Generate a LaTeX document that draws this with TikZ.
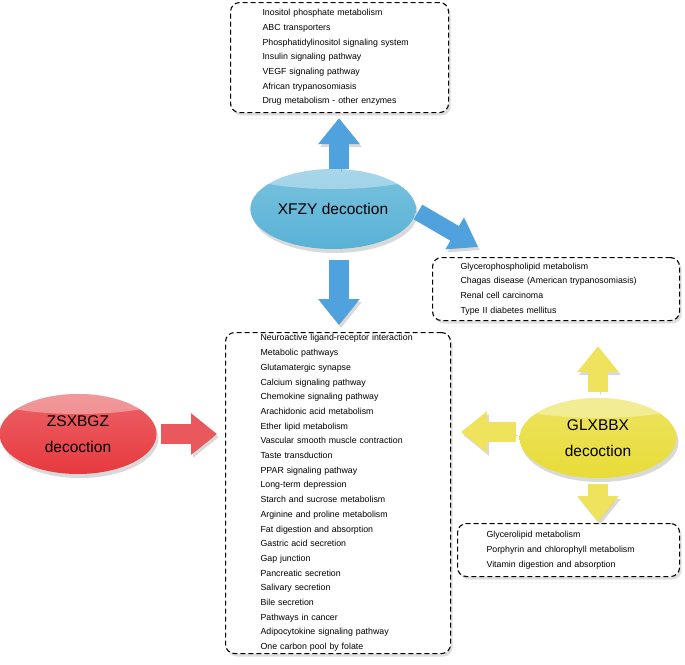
\documentclass[tikz,border=0pt]{standalone}
\usepackage{fontspec}
\setmainfont{Liberation Sans}
\usetikzlibrary{arrows.meta,shapes.geometric,shadows}
\definecolor{xfzyblue}{HTML}{58B2D6}
\definecolor{zsxred}{HTML}{E73A3F}
\definecolor{glxyellow}{HTML}{E8DC38}
\definecolor{arrblue}{HTML}{4FA2DE}
\definecolor{arrred}{HTML}{E9585D}
\definecolor{arryellow}{HTML}{EFE35E}
\begin{document}
\begin{tikzpicture}[x=1pt,y=-1pt]
	\tikzstyle{lst}=[draw,dash pattern=on 5pt off 3pt,line width=1.1pt,rounded corners=9pt,fill=white,drop shadow={shadow xshift=2pt,shadow yshift=-3pt,opacity=0.25},anchor=north west,align=left,inner ysep=2pt,font=\fontsize{8.8}{14.7}\selectfont]
	\tikzstyle{pill}=[ellipse,draw=none,minimum width=157pt,minimum height=80pt,align=center,font=\fontsize{15.5}{26.5}\selectfont,drop shadow={shadow xshift=2pt,shadow yshift=-4pt,opacity=0.3}]
	\tikzstyle{gloss}=[path picture={\fill[white,opacity=0.35] ([yshift=44pt]path picture bounding box.center) ellipse[x radius=105pt,y radius=24pt];}]
	\tikzstyle{fat}=[line width=20pt,-{Triangle[length=26pt,width=40pt]},preaction={draw=black,opacity=0.15,transform canvas={shift={(2pt,-3pt)}}}]
	\useasboundingbox (0,0) rectangle (685,664);

	\node[lst,text width=154pt,inner xsep=32pt,minimum height=110pt] (T) at (230,2) {Inositol phosphate metabolism\\ABC transporters\\Phosphatidylinositol signaling system\\Insulin signaling pathway\\VEGF signaling pathway\\African trypanosomiasis\\Drug metabolism - other enzymes};
	\node[lst,text width=191pt,inner xsep=28pt,minimum height=63pt] (R) at (432,257) {Glycerophospholipid metabolism\\Chagas disease (American trypanosomiasis)\\Renal cell carcinoma\\Type II diabetes mellitus};
	\node[lst,text width=155pt,inner xsep=35pt,minimum height=321pt] (M) at (225,332) {Neuroactive ligand-receptor interaction\\Metabolic pathways\\Glutamatergic synapse\\Calcium signaling pathway\\Chemokine signaling pathway\\Arachidonic acid metabolism\\Ether lipid metabolism\\Vascular smooth muscle contraction\\Taste transduction\\PPAR signaling pathway\\Long-term depression\\Starch and sucrose metabolism\\Arginine and proline metabolism\\Fat digestion and absorption\\Gastric acid secretion\\Gap junction\\Pancreatic secretion\\Salivary secretion\\Bile secretion\\Pathways in cancer\\Adipocytokine signaling pathway\\One carbon pool by folate};
	\node[lst,text width=164pt,inner xsep=29pt,minimum height=53pt] (B) at (457,523) {Glycerolipid metabolism\\Porphyrin and chlorophyll metabolism\\Vitamin digestion and absorption};

	\node[pill,gloss,top color=xfzyblue!80!white,bottom color=xfzyblue] (XFZY) at (333,209) {XFZY decoction};
	\node[pill,gloss,top color=zsxred!80!white,bottom color=zsxred] (ZSXBGZ) at (78,434) {ZSXBGZ\\decoction};
	\node[pill,gloss,top color=glxyellow!80!white,bottom color=glxyellow] (GLXBBX) at (598,438) {GLXBBX\\decoction};

	% XFZY
	\draw[fat,draw=arrblue,shorten >=5pt] ([xshift=6pt]XFZY.north) -- ([xshift=6pt]XFZY.north |- T.south);
	\draw[fat,draw=arrblue,shorten >=7pt] ([shift={(6,11)}]XFZY.south) -- ([xshift=6pt]XFZY.south |- M.north);
	\draw[fat,draw=arrblue,line width=17pt,-{Triangle[length=27pt,width=35pt]}] ([shift={(85,3)}]XFZY.center) -- ([shift={(46,-10)}]R.north west);
	% ZSXBGZ
	\draw[fat,draw=arrred,shorten >=8pt] ([xshift=4pt]ZSXBGZ.east) -- (ZSXBGZ.east -| M.west);
	% GLXBBX
	\draw[fat,draw=arryellow,shorten >=10pt] ([shift={(-3,-6)}]GLXBBX.west) -- ([yshift=6pt]GLXBBX.west -| M.east);
	\draw[fat,draw=arryellow,shorten >=25pt] ([yshift=6pt]GLXBBX.north) -- (GLXBBX.north |- R.south);
	\draw[fat,draw=arryellow,shorten >=1pt] ([yshift=-6pt]GLXBBX.south) -- (GLXBBX.south |- B.north);
\end{tikzpicture}
\end{document}
